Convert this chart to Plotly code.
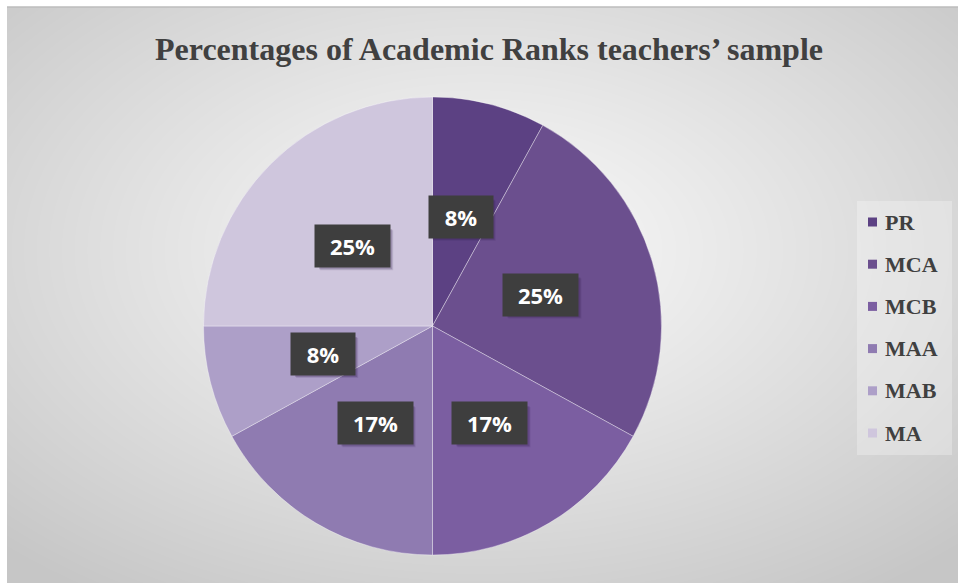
import base64
import struct
import zlib

import numpy as np
import plotly.graph_objects as go

# ---- data -------------------------------------------------------------
ranks = ["PR", "MCA", "MCB", "MAA", "MAB", "MA"]
percentages = [8, 25, 17, 17, 8, 25]
colors = ["#5c4183", "#6b4f8e", "#7b5ea1", "#8f7bb1", "#ad9fc8", "#cfc6dd"]
title_text = "Percentages of Academic Ranks teachers\u2019 sample"

W, H = 958, 583

# ---- layout geometry (pixels) -----------------------------------------
cx, cy, R = 432.5, 326.0, 229.0          # pie centre and radius
label_r = 0.493 * R                       # distance of value boxes from centre
frame_x0, frame_y0 = 7, 7                 # chart frame top-left corner
leg_x0, leg_x1, leg_y0, leg_y1 = 857, 952, 201, 455
leg_first_y, leg_step = 222, 42.2
box_h = 40


def px(x):
    return x / W


def py(y):
    return 1 - y / H


# ---- radial grey background as an inline PNG -------------------------
def gray_png(arr):
    h, w = arr.shape
    raw = b"".join(b"\x00" + arr[i].tobytes() for i in range(h))

    def chunk(tag, data):
        c = struct.pack(">I", len(data)) + tag + data
        return c + struct.pack(">I", zlib.crc32(tag + data) & 0xFFFFFFFF)

    png = (b"\x89PNG\r\n\x1a\n"
           + chunk(b"IHDR", struct.pack(">IIBBBBB", w, h, 8, 0, 0, 0, 0))
           + chunk(b"IDAT", zlib.compress(raw, 9))
           + chunk(b"IEND", b""))
    return "data:image/png;base64," + base64.b64encode(png).decode()


bw, bh = W - frame_x0, H - frame_y0
yy, xx = np.mgrid[0:bh, 0:bw].astype(float)
gcx, gcy = 480 - frame_x0, 250 - frame_y0
t = np.sqrt(((xx - gcx) / 690) ** 2 + ((yy - gcy) / 420) ** 2)
t = np.clip(t, 0, 1)
grad = (250 - 52 * t ** 1.1).astype(np.uint8)
bg_uri = gray_png(grad)

fig = go.Figure()

fig.add_trace(go.Pie(
    labels=ranks,
    values=percentages,
    sort=False,
    direction="clockwise",
    rotation=0,
    textinfo="none",
    hoverinfo="label+percent",
    marker=dict(colors=colors, line=dict(color="rgba(255,255,255,0.35)", width=1)),
    domain=dict(x=[px(cx - R), px(cx + R)], y=[py(cy + R), py(cy - R)]),
    showlegend=False,
))

annotations = []
shapes = [
    # frame top edge
    dict(type="line", xref="paper", yref="paper",
         x0=px(frame_x0), x1=1, y0=py(frame_y0), y1=py(frame_y0),
         line=dict(color="#bcbcbc", width=1.5)),
    # legend panel
    dict(type="rect", xref="paper", yref="paper",
         x0=px(leg_x0), x1=px(leg_x1), y0=py(leg_y1), y1=py(leg_y0),
         fillcolor="rgba(255,255,255,0.28)", line=dict(width=0)),
]

# value boxes placed at the middle angle of each slice
total = sum(percentages)
cum = 0
for v in percentages:
    mid = (cum + v / 2) / total * 2 * np.pi
    cum += v
    lx = cx + label_r * np.sin(mid)
    ly = cy - label_r * np.cos(mid)
    txt = f"{round(v / total * 100)}%"
    bw_box = 40 + 11 * len(txt)
    # soft drop shadow behind the box
    for off, alpha in ((4, 0.12), (3, 0.22)):
        shapes.append(dict(type="rect", xref="paper", yref="paper",
                           x0=px(lx - bw_box / 2 + off), x1=px(lx + bw_box / 2 + off),
                           y0=py(ly + box_h / 2 + off), y1=py(ly - box_h / 2 + off),
                           fillcolor=f"rgba(45,25,70,{alpha})", line=dict(width=0)))
    annotations.append(dict(x=px(lx), y=py(ly), xref="paper", yref="paper",
                            showarrow=False, width=bw_box, height=box_h,
                            xanchor="center", yanchor="middle", text=txt,
                            bgcolor="#3e3e3e",
                            font=dict(family="Open Sans", size=22, color="white",
                                      weight="bold")))

# legend entries
for i, (name, col) in enumerate(zip(ranks, colors)):
    yc = leg_first_y + i * leg_step
    shapes.append(dict(type="rect", xref="paper", yref="paper",
                       x0=px(868), x1=px(877), y0=py(yc + 4.5), y1=py(yc - 4.5),
                       fillcolor=col, line=dict(width=0)))
    annotations.append(dict(x=px(883), y=py(yc), xref="paper", yref="paper",
                            text=name, showarrow=False, xanchor="left",
                            yanchor="middle",
                            font=dict(family="Liberation Serif", size=22,
                                      color="#404040", weight="bold")))

fig.update_layout(
    width=W, height=H, autosize=False,
    margin=dict(l=0, r=0, t=0, b=0),
    paper_bgcolor="white",
    plot_bgcolor="rgba(0,0,0,0)",
    title=dict(text=title_text, x=px(489), y=py(49),
               xanchor="center", yanchor="middle",
               font=dict(family="Liberation Serif", size=32, color="#404040",
                         weight="bold")),
    images=[dict(source=bg_uri, xref="paper", yref="paper",
                 x=px(frame_x0), y=py(frame_y0),
                 sizex=bw / W, sizey=bh / H,
                 xanchor="left", yanchor="top",
                 sizing="stretch", layer="below")],
    shapes=shapes,
    annotations=annotations,
)

fig.write_html("out.html")
